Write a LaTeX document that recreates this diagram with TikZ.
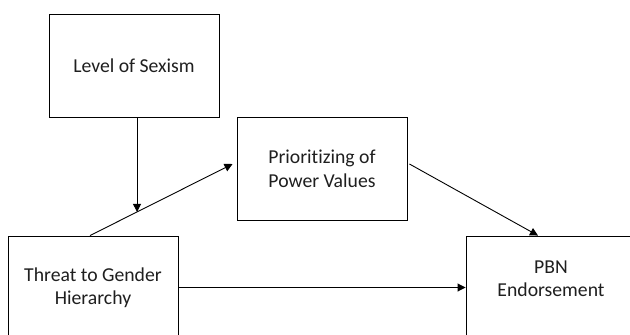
\documentclass[tikz,border=0pt]{standalone}
\usepackage{fontspec}
\setmainfont{Carlito}[Ligatures=NoCommon]
\usetikzlibrary{arrows.meta,calc}
\begin{document}
\begin{tikzpicture}[x=1pt,y=-1pt,
  txt/.style={align=center,text=black!88,inner sep=0pt,font=\fontsize{19.7}{23.5}\selectfont},
  box/.style={txt,draw=black,line width=0.9pt,minimum width=170pt,minimum height=103pt},
  conn/.style={line width=0.9pt,-{Triangle[length=8pt,width=8pt]}}]
\useasboundingbox (0,0) rectangle (630,335);
\clip (0,0) rectangle (630,335);
\fill[white] (0,0) rectangle (630,335);
\node[box] (sexism) at (134,65.5) {Level of Sexism};
\node[box] (prior) at (322,169) {Prioritizing of\\Power Values};
\node[box] (threat) at (93,287.5) {Threat to Gender\\Hierarchy};
\node[box] (pbn) at (551,287.5) {};
\node[txt] (pbntext) at ([yshift=9pt]pbn.center) {PBN\\Endorsement};
\draw[conn] ([xshift=-3pt]threat.north) -- ([xshift=-4pt,yshift=5pt]prior.west) coordinate[pos=0.33] (m);
\draw[conn] (sexism.south -| m) -- (m);
\draw[conn] ([xshift=2pt,yshift=5pt]prior.east) -- ([xshift=-13pt]pbn.north);
\draw[conn] (threat.east) -- (pbn.west |- threat.east);
\end{tikzpicture}
\end{document}
